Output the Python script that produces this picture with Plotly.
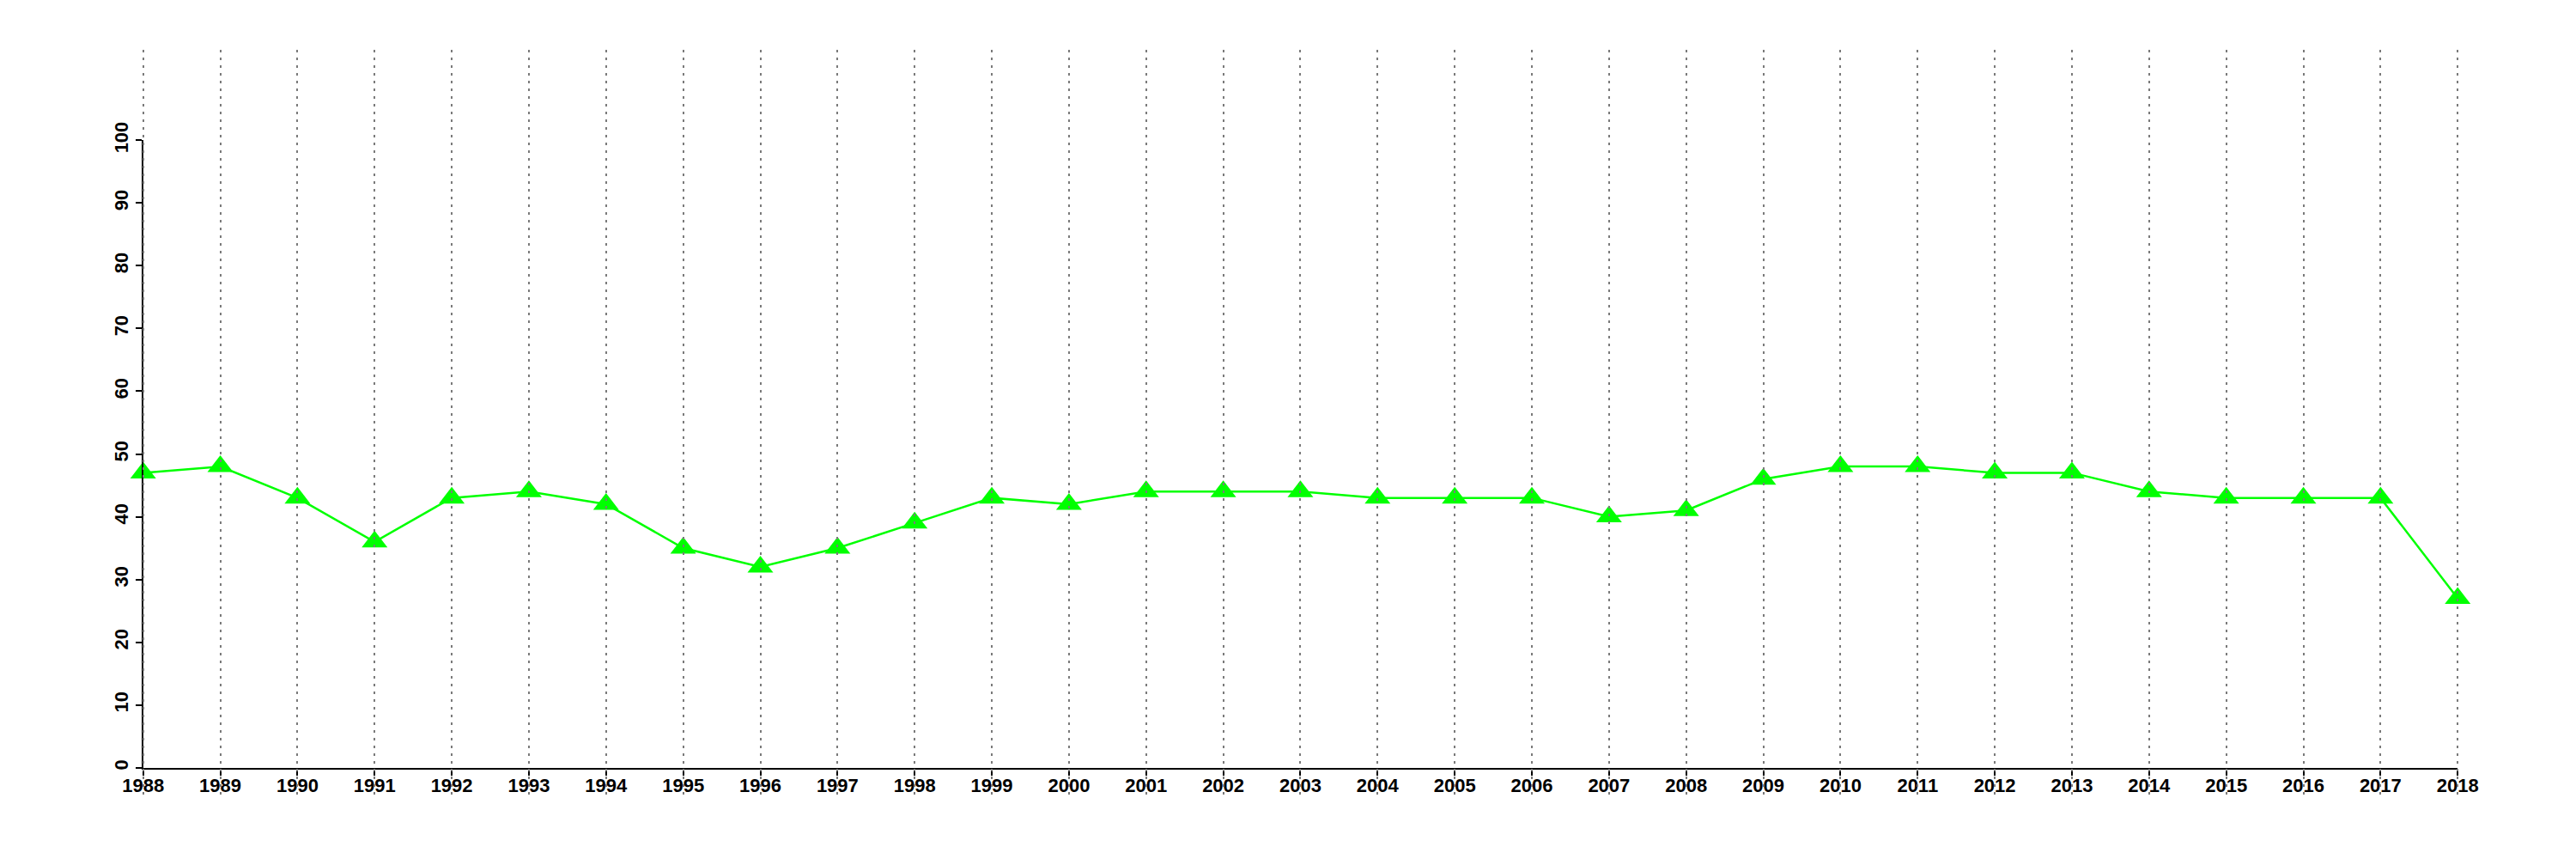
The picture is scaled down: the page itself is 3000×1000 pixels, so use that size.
import plotly.graph_objects as go

years = list(range(1988, 2019))
values = [47, 48, 43, 36, 43, 44, 42, 35, 32, 35, 39, 43, 42, 44, 44, 44,
          43, 43, 43, 40, 41, 46, 48, 48, 47, 47, 44, 43, 43, 43, 27]
y_ticks = list(range(0, 101, 10))

W, H = 3000, 1000
# pixel geometry of the reference
x0_px, x1_px = 166.7, 2862.2      # 1988 .. 2018
y0_px, y1_px = 893.7, 163.3       # 0 .. 100 (from top)
px_per_year = (x1_px - x0_px) / (years[-1] - years[0])
px_per_unit = (y0_px - y1_px) / 100.0

# extended plot region (R style, 4% padding, ylim 0..110)
xr = [years[0] - 1.2, years[-1] + 1.2]
yr = [-4.4, 114.4]
gx0 = x0_px - 1.2 * px_per_year
gx1 = x1_px + 1.2 * px_per_year
gy_bot = y0_px + 4.4 * px_per_unit
gy_top = y0_px - 114.4 * px_per_unit

font = dict(family="Liberation Sans, Arial, sans-serif", size=22, color="black", weight="bold")

fig = go.Figure()
fig.add_trace(go.Scatter(
    x=years, y=values, mode="lines+markers",
    line=dict(color="#00FF00", width=2.5),
    marker=dict(symbol="triangle-up", size=26, color="#00FF00"),
    cliponaxis=False, showlegend=False, xaxis="x", yaxis="y"))
fig.add_trace(go.Scatter(
    x=years, y=values, mode="lines", line=dict(width=0), opacity=0,
    hoverinfo="skip", showlegend=False, xaxis="x2", yaxis="y2"))

fig.update_layout(
    width=W, height=H,
    margin=dict(l=0, r=0, t=0, b=0, autoexpand=False),
    paper_bgcolor="white", plot_bgcolor="rgba(0,0,0,0)",
    xaxis=dict(domain=[x0_px / W, x1_px / W], range=[years[0], years[-1]],
               anchor="y", tickmode="array", tickvals=years, automargin=False,
               ticktext=[str(y) for y in years], showgrid=False, zeroline=False,
               showline=True, linecolor="black", linewidth=2,
               ticks="outside", ticklen=7, tickwidth=2, tickcolor="black",
               ticklabelstandoff=-7, tickfont=font),
    yaxis=dict(domain=[1 - y0_px / H, 1 - y1_px / H], range=[0, 100],
               anchor="x", tickmode="array", tickvals=y_ticks, automargin=False,
               ticktext=[str(v) for v in y_ticks], showgrid=False, zeroline=False,
               showline=True, linecolor="black", linewidth=2,
               ticks="outside", ticklen=7, tickwidth=2, tickcolor="black",
               tickangle=-90, tickfont=font),
    xaxis2=dict(domain=[gx0 / W, gx1 / W], range=xr, anchor="y2", automargin=False,
                tickmode="array", tickvals=years, showticklabels=False,
                ticks="", showline=False, zeroline=False,
                showgrid=True, gridcolor="#7a7a7a", gridwidth=2,
                griddash="3px,6px"),
    yaxis2=dict(domain=[1 - gy_bot / H, 1 - gy_top / H], range=yr, anchor="x2",
                automargin=False,
                showgrid=False, showticklabels=False, ticks="", showline=False,
                zeroline=False),
)

fig.write_html("out.html", config={"displayModeBar": False},
               post_script="document.body.style.margin='0';")
